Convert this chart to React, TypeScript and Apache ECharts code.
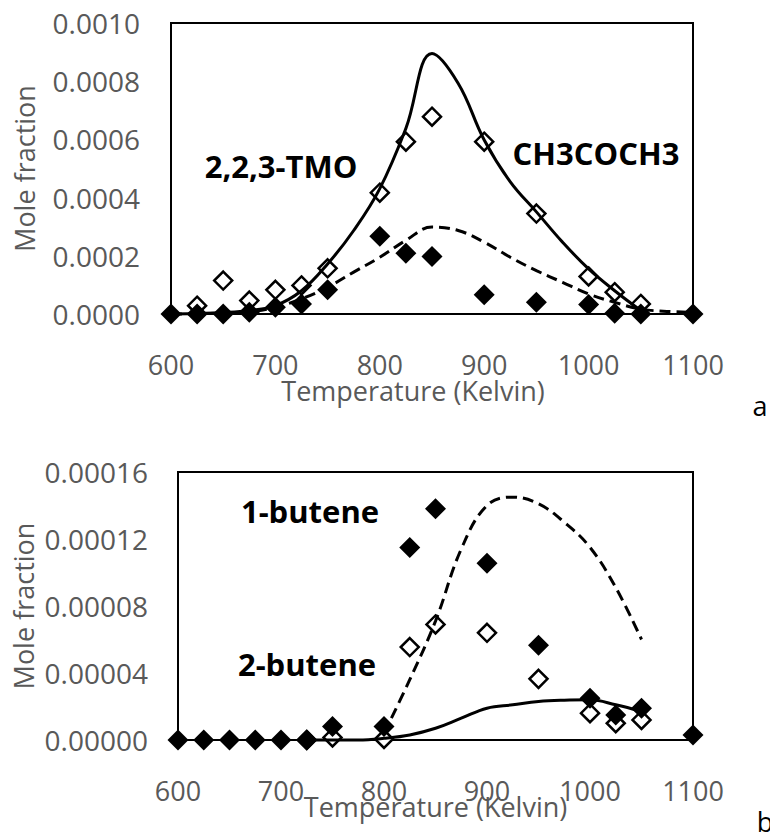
import React, { useEffect, useRef } from "react";
import * as echarts from "echarts";

// ---------- Panel a ----------
const aOpenT = [625, 650, 675, 700, 725, 750, 800, 825, 850, 900, 950, 1000, 1025, 1050];
const aOpenV = [0.0000287, 0.000115, 0.000046, 0.000083, 0.000098, 0.000157, 0.000417, 0.000592, 0.000678, 0.000592, 0.000345, 0.000129, 0.000075, 0.0000345];
const aFilledT = [600, 625, 650, 675, 700, 725, 750, 800, 825, 850, 900, 950, 1000, 1025, 1050, 1100];
const aFilledV = [0, 0, 0, 0.000006, 0.000023, 0.000034, 0.000083, 0.000267, 0.000209, 0.000198, 0.000066, 0.00004, 0.000033, 0.000003, 0, 0];
const aSolidT = [600, 625, 650, 675, 700, 725, 750, 775, 800, 825, 850, 875, 900, 925, 950, 975, 1000, 1025, 1050];
const aSolidV = [0, 0.000002, 0.000005, 0.000012, 0.000029, 0.00008, 0.000172, 0.000287, 0.000431, 0.000638, 0.000895, 0.000793, 0.000598, 0.000454, 0.000351, 0.000247, 0.000155, 0.00008, 0.000012];
const aDashT = [600, 625, 650, 675, 700, 725, 750, 775, 800, 825, 850, 875, 900, 925, 950, 975, 1000, 1025, 1050, 1075, 1100];
const aDashV = [0, 0.000001, 0.000003, 0.000008, 0.000023, 0.000052, 0.000092, 0.000144, 0.000195, 0.000253, 0.000299, 0.000287, 0.000247, 0.000195, 0.000149, 0.000109, 0.000069, 0.00004, 0.000017, 0.000009, 0.000006];

// ---------- Panel b ----------
const bFilledT = [600, 625, 650, 675, 700, 725, 750, 800, 825, 850, 900, 950, 1000, 1025, 1050, 1100];
const bFilledV = [0, 0, 0, 0, 0, 0, 0.000008, 0.000008, 0.000115, 0.000138, 0.0001055, 0.0000565, 0.000025, 0.000015, 0.000019, 0.000003];
const bOpenT = [725, 750, 800, 825, 850, 900, 950, 1000, 1025, 1050];
const bOpenV = [0, 0.0000015, 0.0000006, 0.0000555, 0.000069, 0.000064, 0.0000365, 0.000016, 0.00001, 0.000012];
const bDashT = [800, 825, 850, 875, 900, 925, 950, 975, 1000, 1025, 1050];
const bDashV = [0.000004, 0.000036, 0.000071, 0.000114, 0.00014, 0.000145, 0.000141, 0.00013, 0.000115, 0.000091, 0.00006];
const bSolidT = [725, 750, 775, 800, 825, 850, 875, 900, 925, 950, 975, 1000, 1025, 1050];
const bSolidV = [0, 0, 0, 0.000001, 0.000003, 0.000007, 0.000013, 0.000019, 0.000021, 0.000023, 0.0000238, 0.000024, 0.000021, 0.000017];

// ---------- Axes / text ----------
const xMin = 600, xMax = 1100, xStep = 100;
const aYMax = 0.001, aYStep = 0.0002;
const bYMax = 0.00016, bYStep = 0.00004;
const xTitle = "Temperature (Kelvin)";
const yTitle = "Mole fraction";
const aLabels = ["2,2,3-TMO", "CH3COCH3"];
const bLabels = ["1-butene", "2-butene"];
const panelTags = ["a", "b"];

const zip = (t: number[], v: number[]) => t.map((x, i) => [x, v[i]]);

const FONT = "'Open Sans', 'Noto Sans', sans-serif";
const GRAY = "#595959";

export default function App() {
  const ref = useRef<HTMLDivElement>(null);
  useEffect(() => {
    if (!ref.current) return;
    const chart = echarts.init(ref.current, null, { renderer: "svg" });

    const xAxis = (gi: number, nameGap: number, namePad: number[]) => ({
      type: "value",
      gridIndex: gi,
      min: xMin,
      max: xMax,
      interval: xStep,
      name: xTitle,
      nameLocation: "middle",
      nameGap,
      nameMoveOverlap: false,
      nameTextStyle: { color: GRAY, fontSize: 27, fontFamily: FONT, padding: namePad },
      axisLine: { show: false },
      axisTick: { show: false },
      splitLine: { show: false },
      axisLabel: {
        color: GRAY,
        fontSize: 27,
        fontFamily: FONT,
        margin: 37,
        formatter: (v: number) => String(v),
      },
    });
    const yAxis = (gi: number, max: number, step: number, dec: number, margin: number, nameGap: number) => ({
      type: "value",
      gridIndex: gi,
      min: 0,
      max,
      interval: step,
      name: yTitle,
      nameLocation: "middle",
      nameRotate: 90,
      nameGap,
      nameMoveOverlap: false,
      nameTextStyle: { color: GRAY, fontSize: 27, fontFamily: FONT },
      axisLine: { show: false },
      axisTick: { show: false },
      splitLine: { show: false },
      axisLabel: {
        color: GRAY,
        fontSize: 28,
        fontFamily: FONT,
        margin,
        formatter: (v: number) => v.toFixed(dec),
      },
    });

    const openSym = (name: string, gi: number, data: number[][]) => ({
      name,
      type: "scatter",
      xAxisIndex: gi,
      yAxisIndex: gi,
      data,
      symbol: "diamond",
      symbolSize: 18,
      clip: false,
      itemStyle: { color: "#ffffff", borderColor: "#000000", borderWidth: 2.5, opacity: 1 },
    });
    const filledSym = (name: string, gi: number, data: number[][]) => ({
      name,
      type: "scatter",
      xAxisIndex: gi,
      yAxisIndex: gi,
      data,
      symbol: "diamond",
      symbolSize: 21,
      clip: false,
      itemStyle: { color: "#000000", opacity: 1 },
    });
    const line = (name: string, gi: number, data: number[][], dashed: boolean) => ({
      name,
      type: "line",
      xAxisIndex: gi,
      yAxisIndex: gi,
      data,
      smooth: 0.4,
      showSymbol: false,
      symbol: "none",
      clip: false,
      lineStyle: { color: "#000000", width: 3, type: dashed ? [11, 6] : "solid" },
    });

    const labelText = (text: string, x: number, y: number, bold: boolean) => ({
      type: "text",
      x,
      y,
      z: 100,
      style: {
        text,
        fill: "#000000",
        font: `${bold ? "bold " : ""}${bold ? 31 : 27}px ${FONT}`,
        align: "center",
        verticalAlign: "middle",
      },
    });

    chart.setOption({
      animation: false,
      backgroundColor: "#ffffff",
      grid: [
        { left: 171, top: 23, width: 522, height: 291, show: true, borderColor: "#000000", borderWidth: 2, backgroundColor: "transparent" },
        { left: 178, top: 472, width: 515, height: 268, show: true, borderColor: "#000000", borderWidth: 2, backgroundColor: "transparent" },
      ],
      xAxis: [xAxis(0, 63, [0, 38, 0, 0]), xAxis(1, 53, [0, 0, 0, 0])],
      yAxis: [yAxis(0, aYMax, aYStep, 4, 31, 133), yAxis(1, bYMax, bYStep, 5, 30, 141)],
      series: [
        openSym("2,2,3-TMO exp", 0, zip(aOpenT, aOpenV)),
        filledSym("CH3COCH3 exp", 0, zip(aFilledT, aFilledV)),
        line("2,2,3-TMO model", 0, zip(aSolidT, aSolidV), false),
        line("CH3COCH3 model", 0, zip(aDashT, aDashV), true),
        openSym("2-butene exp", 1, zip(bOpenT, bOpenV)),
        filledSym("1-butene exp", 1, zip(bFilledT, bFilledV)),
        line("2-butene model", 1, zip(bSolidT, bSolidV), false),
        line("1-butene model", 1, zip(bDashT, bDashV), true),
      ],
      graphic: [
        labelText(aLabels[0], 281, 166, true),
        labelText(aLabels[1], 596, 153, true),
        labelText(bLabels[0], 310, 511, true),
        labelText(bLabels[1], 307, 664, true),
        labelText(panelTags[0], 760, 405, false),
        labelText(panelTags[1], 765, 821, false),
      ],
    });
    return () => chart.dispose();
  }, []);

  return (
    <div
      ref={ref}
      style={{ position: "fixed", left: 0, top: 0, width: 770, height: 833, background: "#fff" }}
    />
  );
}
